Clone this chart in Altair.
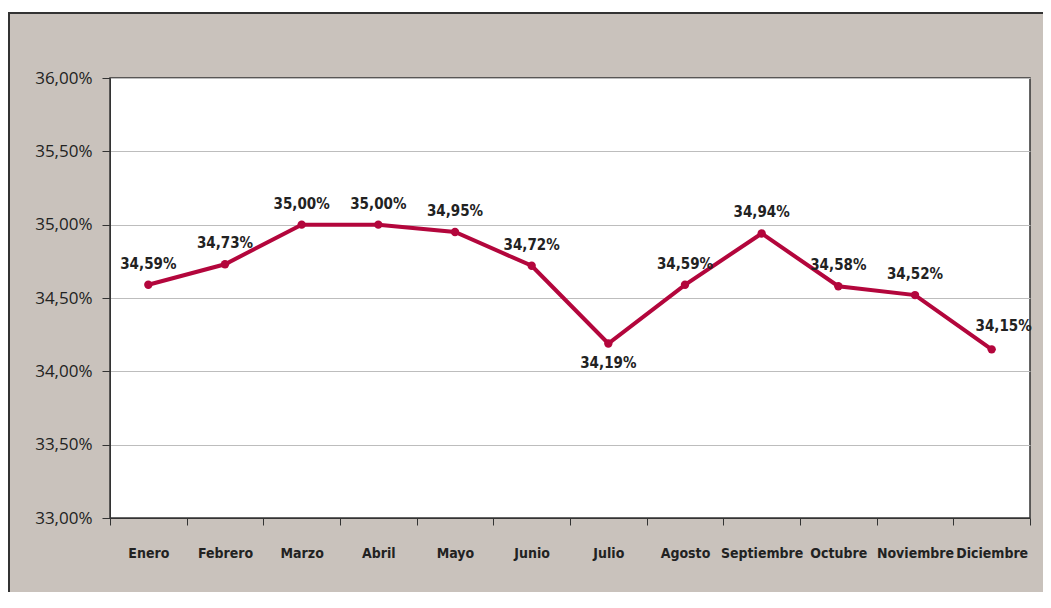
import altair as alt
import pandas as pd

months = ["Enero", "Febrero", "Marzo", "Abril", "Mayo", "Junio", "Julio",
          "Agosto", "Septiembre", "Octubre", "Noviembre", "Diciembre"]
values = [34.59, 34.73, 35.00, 35.00, 34.95, 34.72, 34.19,
          34.59, 34.94, 34.58, 34.52, 34.15]

df = pd.DataFrame({"mes": months, "valor": values})
df["etiqueta"] = [f"{v:.2f}".replace(".", ",") + "%" for v in values]

W, H = 920, 440
BG = "#c9c2bc"
RED = "#b3063c"

x = alt.X("mes:N", sort=months, title=None,
          scale=alt.Scale(type="band", paddingInner=0, paddingOuter=0),
          axis=alt.Axis(labelAngle=0, tickBand="extent", tickSize=7, tickColor="#333",
                        domainColor="#333", labelFont="DejaVu Sans Condensed",
                        labelFontWeight="bold", labelFontSize=14, labelColor="#222",
                        labelPadding=21, grid=False))
y = alt.Y("valor:Q", title=None,
          scale=alt.Scale(domain=[33, 36], nice=False),
          axis=alt.Axis(values=[33, 33.5, 34, 34.5, 35, 35.5, 36],
                        labelExpr="replace(format(datum.value, '.2f'), '.', ',') + '%'",
                        tickSize=8, tickColor="#333", domainColor="#333",
                        labelFont="Open Sans", labelFontSize=17, labelColor="#222",
                        labelPadding=10, gridColor="#bdbdbd", gridWidth=1))

base = alt.Chart(df).encode(x=x, y=y)

line = base.mark_line(color=RED, strokeWidth=4)
pts = base.mark_point(color=RED, filled=True, size=70, opacity=1)

txt_style = dict(font="DejaVu Sans Condensed", fontWeight="bold", fontSize=15, color="#222")
lbl_up = base.transform_filter(
    "datum.mes != 'Julio' && datum.mes != 'Diciembre'"
).mark_text(dy=-21, **txt_style).encode(text="etiqueta:N")
lbl_down = base.transform_filter("datum.mes == 'Julio'").mark_text(
    dy=20, **txt_style).encode(text="etiqueta:N")
lbl_dic = base.transform_filter("datum.mes == 'Diciembre'").mark_text(
    dy=-23, dx=12, **txt_style).encode(text="etiqueta:N")

one = pd.DataFrame({"k": [0]})
white_strip = alt.Chart(one).mark_rect(fill="white", stroke=None).encode(
    x=alt.value(-110), x2=alt.value(1000), y=alt.value(-80), y2=alt.value(-65))
frame = alt.Chart(one).mark_rect(fill=None, stroke="#333", strokeWidth=2).encode(
    x=alt.value(-101), x2=alt.value(1000), y=alt.value(-65), y2=alt.value(700))

chart = alt.layer(white_strip, frame, line, pts, lbl_up, lbl_down, lbl_dic).properties(
    width=W, height=H,
    background=BG,
    padding={"left": 102, "top": 70, "right": 13, "bottom": 74},
    autosize=alt.AutoSizeParams(type="none"),
).configure_view(fill="white", stroke="#333", strokeWidth=1.5)

chart.save("out.html", embed_options={"renderer": "svg", "actions": False})
